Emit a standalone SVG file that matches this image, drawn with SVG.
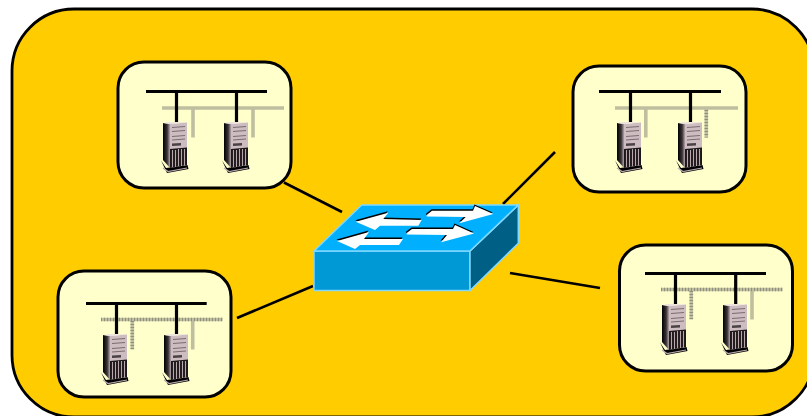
<svg xmlns="http://www.w3.org/2000/svg" width="807" height="416" viewBox="0 0 807 416">
<style>
.box{fill:#ffffcc;stroke:#000;stroke-width:3}
.bus{stroke:#000;stroke-width:3.2;fill:none}
.shadow{stroke:#bfbf9f;stroke-width:3.6;fill:none}
.grain{stroke:#8f9080;stroke-width:3.6;stroke-dasharray:1 2;fill:none}
.conn{stroke:#000;stroke-width:2.6;fill:none}
</style>
<defs>
<linearGradient id="side" x1="0" x2="1" y1="0" y2="0"><stop offset="0" stop-color="#000"/><stop offset="0.6" stop-color="#3a3336"/><stop offset="1" stop-color="#b5a6aa"/></linearGradient>
<g id="server">
<path d="M161 160.500L167 173L188.500 169L187.500 165L166 168Z" fill="#000"/>
<path d="M163 168L168 171.500L187 168" fill="none" stroke="#b9a9ad" stroke-width="1.200"/>
<path d="M163 123L170 124L170 168L163 160Z" fill="url(#side)"/>
<path d="M170 124L187 122.500L187 165L170 168Z" fill="#cdbcc0"/>
<path d="M163 123L170 122L187 122.500L170 124Z" fill="#ece2e2"/>
<path d="M172 127.500L185 126.500M172 131.500L185 130.500M172 136.500L185 135.500M172 140L185 139" stroke="#6e6266" stroke-width="0.900"/>
<path d="M172 143.500L181 143L181 145.500L172 146Z" fill="#4a4246"/>
<path d="M170 149L187 147.500V165L170 168Z" fill="#1c1719"/>
<path d="M172.500 150V167M175.500 150V167M178.500 149V166M181.500 149V166M184.500 149V165.500" stroke="#b8a8ac" stroke-width="1.100"/>
</g>
</defs>
<rect x="0" y="0" width="807" height="416" fill="#fff"/>
<rect id="site" x="12" y="9" width="802" height="408" rx="62" ry="62" fill="#ffcc00" stroke="#000" stroke-width="2.800"/>
<g id="connectors">
<path class="conn" d="M284 182.500L342 212"/>
<path class="conn" d="M503 204L555 152"/>
<path class="conn" d="M510 273L600 288"/>
<path class="conn" d="M313 286L237 318"/>
</g>
<g id="lan-top-left">
<rect class="box" x="118" y="62" width="173" height="126" rx="26"/>
<path class="shadow" d="M162 108H284M193 108V137.500M253 108V137.500"/>
<path class="bus" d="M146 91.500H267M176.500 91.500V122M236.500 91.500V122"/>
<use href="#server"/>
<use href="#server" x="61"/>
</g>
<g id="lan-top-right">
<rect class="box" x="573" y="66" width="173" height="126" rx="26"/>
<path class="shadow" d="M615 108H738M645.800 108V137.500M706.300 108V137.500"/>
<path class="grain" d="M706.300 110V137.500"/>
<path class="bus" d="M599 91.500H721M630.500 91.500V122M690.500 91.500V122"/>
<use href="#server" x="454"/>
<use href="#server" x="515"/>
</g>
<g id="lan-bottom-left">
<rect class="box" x="58" y="271" width="173" height="126" rx="26"/>
<path class="shadow" d="M101 319.500H222.700M132.300 319.500V349.500M192.700 319.500V349.500"/>
<path class="grain" d="M101 319.500H222.700M132.300 321V349.500"/>
<path class="bus" d="M86 303.500H206.700M116.500 303.500V334M176.500 303.500V334"/>
<use href="#server" x="-60" y="212"/>
<use href="#server" x="1" y="212"/>
</g>
<g id="lan-bottom-right">
<rect class="box" x="619.500" y="245" width="173" height="126" rx="26"/>
<path class="shadow" d="M661 289.500H782.700M691.300 289.500V319.500M752 289.500V319.500"/>
<path class="grain" d="M661 289.500H782.700M691.300 291V319.500"/>
<path class="bus" d="M645 273.500H766M675.500 273.500V304M735.700 273.500V304"/>
<use href="#server" x="499" y="182"/>
<use href="#server" x="560" y="182"/>
</g>
<g id="switch">
<path d="M314 251H470V290.500H314Z" fill="#0099d6" stroke="#80d8ff" stroke-width="1.500"/>
<path d="M470 251L518.300 205V243.300L470 290.500Z" fill="#005f85" stroke="#80d8ff" stroke-width="1.500"/>
<path d="M314 251L361.700 205H518.300L470 251Z" fill="#00b0ff" stroke="#80d8ff" stroke-width="1.500"/>
<g fill="#000" transform="translate(-0.500,-1.500)">
<path d="M355.700 221.700L388.300 212.700L383.300 219L421.700 220L418.300 225.700L380 225.700L375 230Z"/>
<path d="M337 241L369 232L364 239L403 239L399 245L360 245L355 249Z"/>
<path d="M426.700 215L432 210.700L473 210.700L475 206L493.300 214L459.300 223.300L465.700 217L426.700 216.500Z"/>
<path d="M406.700 233L412 229L453 229L455 225L474 233.500L441 242.300L447 235L406.700 234.500Z"/>
</g>
<g fill="#fff">
<path d="M355.700 221.700L388.300 212.700L383.300 219L421.700 220L418.300 225.700L380 225.700L375 230Z"/>
<path d="M337 241L369 232L364 239L403 239L399 245L360 245L355 249Z"/>
<path d="M426.700 215L432 210.700L473 210.700L475 206L493.300 214L459.300 223.300L465.700 217L426.700 216.500Z"/>
<path d="M406.700 233L412 229L453 229L455 225L474 233.500L441 242.300L447 235L406.700 234.500Z"/>
</g>
</g>
</svg>
